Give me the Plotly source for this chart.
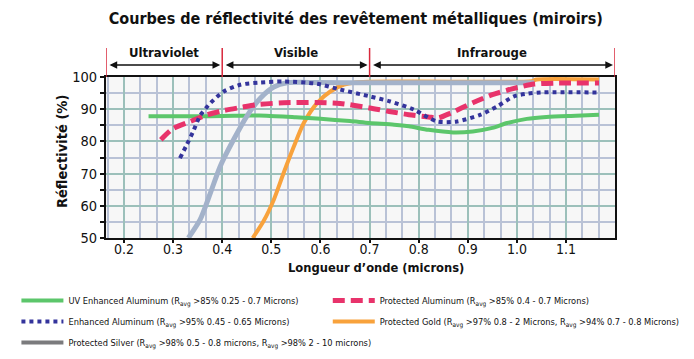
import plotly.graph_objects as go

# ---- data ----
uv_x = [0.25, 0.30, 0.35, 0.40, 0.45, 0.49, 0.55, 0.60, 0.66, 0.70, 0.75, 0.78, 0.82, 0.87, 0.91, 0.95, 0.98, 1.02, 1.06, 1.12, 1.167]
uv_y = [87.8, 87.8, 87.8, 87.9, 88.0, 88.0, 87.5, 87.0, 86.3, 85.7, 85.2, 84.7, 83.6, 82.8, 83.1, 84.2, 85.7, 87.0, 87.6, 88.0, 88.3]

pa_x = [0.275, 0.30, 0.335, 0.37, 0.40, 0.44, 0.47, 0.525, 0.59, 0.64, 0.70, 0.74, 0.78, 0.82, 0.84, 0.865, 0.91, 0.95, 0.99, 1.035, 1.075, 1.167]
pa_y = [80.5, 84.0, 86.2, 88.3, 89.5, 90.6, 91.4, 92.0, 92.1, 91.8, 90.4, 89.3, 88.3, 87.6, 87.3, 88.8, 92.0, 94.5, 96.3, 97.8, 98.1, 98.1]

ea_x = [0.314, 0.328, 0.341, 0.355, 0.376, 0.403, 0.437, 0.478, 0.525, 0.593, 0.64, 0.70, 0.742, 0.79, 0.837, 0.878, 0.926, 0.96, 0.994, 1.021, 1.048, 1.167]
ea_y = [74.8, 79.0, 83.1, 88.0, 91.9, 95.5, 97.6, 98.3, 98.6, 97.9, 96.1, 94.0, 92.4, 89.9, 86.2, 86.2, 88.3, 90.9, 94.0, 94.8, 95.2, 95.2]

ps_x = [0.331, 0.355, 0.376, 0.396, 0.423, 0.45, 0.478, 0.505, 0.532, 0.593, 0.70, 0.85, 1.035]
ps_y = [50.0, 55.7, 64.0, 72.3, 80.5, 87.8, 93.5, 96.9, 98.2, 98.3, 98.2, 98.2, 98.2]

pg_x = [0.462, 0.484, 0.505, 0.525, 0.546, 0.566, 0.593, 0.62, 0.648, 0.67, 0.70, 0.80, 1.03, 1.04, 1.167]
pg_y = [50.0, 55.2, 61.9, 70.2, 78.5, 85.7, 91.9, 95.5, 97.6, 98.3, 98.5, 98.6, 98.7, 99.2, 99.2]

region_bounds = [0.4, 0.7]
region_labels = ["Ultraviolet", "Visible", "Infrarouge"]
x_ticks = [0.2, 0.3, 0.4, 0.5, 0.6, 0.7, 0.8, 0.9, 1.0, 1.1]
x_ticktext = ["0.2", "0.3", "0.4", "0.5", "0.6", "0.7", "0.8", "0.9", "1.0", "1.1"]
y_ticks = [50, 60, 70, 80, 90, 100]

names = {
    "uv": "UV Enhanced Aluminum (R<sub>avg</sub> >85% 0.25 - 0.7 Microns)",
    "pa": "Protected Aluminum (R<sub>avg</sub> >85% 0.4 - 0.7 Microns)",
    "ea": "Enhanced Aluminum (R<sub>avg</sub> >95% 0.45 - 0.65 Microns)",
    "pg": "Protected Gold (R<sub>avg</sub> >97% 0.8 - 2 Microns, R<sub>avg</sub> >94% 0.7 - 0.8 Microns)",
    "ps": "Protected Silver (R<sub>avg</sub> >98% 0.5 - 0.8 microns, R<sub>avg</sub> >98% 2 - 10 microns)",
}

XMIN, XMAX = 0.1634, 1.1996
FONT = "DejaVu Sans Condensed, Roboto, sans-serif"
GREEN = "#5cc66b"
PINK = "#e8336b"
BLUE = "#34349c"
SILVER = "#a3b2ca"
GOLD = "#f8a23c"
GRAY = "#7b7b7d"

fig = go.Figure()
sm = 0.7
fig.add_trace(go.Scatter(x=pg_x, y=pg_y, mode="lines", name=names["pg"],
                         line=dict(color=GOLD, width=4, shape="spline", smoothing=sm),
                         legend="legend2", legendgroup="pg", legendrank=2))
fig.add_trace(go.Scatter(x=uv_x, y=uv_y, mode="lines", name=names["uv"],
                         line=dict(color=GREEN, width=4, shape="spline", smoothing=sm),
                         legend="legend", legendgroup="uv", legendrank=1))
fig.add_trace(go.Scatter(x=ps_x, y=ps_y, mode="lines", name=names["ps"], showlegend=False,
                         line=dict(color=SILVER, width=5, shape="spline", smoothing=sm)))
fig.add_trace(go.Scatter(x=pa_x, y=pa_y, mode="lines", name=names["pa"],
                         line=dict(color=PINK, width=5, dash="12px,6px", shape="spline", smoothing=sm),
                         legend="legend2", legendgroup="pa", legendrank=1))
fig.add_trace(go.Scatter(x=ea_x, y=ea_y, mode="lines", name=names["ea"],
                         line=dict(color=BLUE, width=4, dash="4px,4px", shape="spline", smoothing=sm),
                         legend="legend", legendgroup="ea", legendrank=2))
fig.add_trace(go.Scatter(x=[None], y=[None], mode="lines", name=names["ps"],
                         line=dict(color=GRAY, width=4),
                         legend="legend", legendgroup="ps", legendrank=3))

shapes = []
for xv in [XMIN] + region_bounds + [XMAX]:
    shapes.append(dict(type="line", xref="x", yref="paper", x0=xv, x1=xv, y0=1.0, y1=1.18,
                       line=dict(color="#d8283c", width=1.5)))

annotations = []
edges = [XMIN] + region_bounds + [XMAX]
for i, lab in enumerate(region_labels):
    a, b = edges[i], edges[i + 1]
    annotations.append(dict(x=b, y=1.0745, xref="x", yref="paper", ax=a, ay=0,
                            axref="x", ayref="pixel", text="", showarrow=True,
                            arrowhead=2, arrowside="end+start", arrowsize=1.1, arrowwidth=1.4,
                            arrowcolor="#111", standoff=2, startstandoff=2))
    annotations.append(dict(x=(a + b) / 2, y=1.155, xref="x", yref="paper", text="<b>%s</b>" % lab,
                            xanchor="center", yanchor="middle",
                            showarrow=False, font=dict(family=FONT, size=13, color="#111")))

annotations.append(dict(x=0.530, y=-0.186, xref="paper", yref="paper", xanchor="center", yanchor="middle",
                        text="<b>Longueur d’onde (microns)</b>", showarrow=False,
                        font=dict(family=FONT, size=12.8, color="#111")))
annotations.append(dict(x=-0.0864, y=0.534, xref="paper", yref="paper", textangle=-90,
                        xanchor="center", yanchor="middle",
                        text="<b>Réflectivité (%)</b>", showarrow=False,
                        font=dict(family=FONT, size=14.5, color="#111")))

fig.update_layout(
    width=686, height=351,
    margin=dict(l=98, r=79, t=69, b=121, autoexpand=False),
    paper_bgcolor="white", plot_bgcolor="#f7f7f7",
    title=dict(text="<b>Courbes de réflectivité des revêtement métalliques (miroirs)</b>",
               x=0.507, xanchor="center", xref="container", y=1 - 10 / 351, yanchor="middle",
               font=dict(family=FONT, size=16, color="#111")),
    shapes=shapes, annotations=annotations,
    legend=dict(x=-0.176, xanchor="left", y=-0.298, yanchor="top", orientation="v",
                font=dict(family=FONT, size=9.2, color="#111"), bgcolor="rgba(0,0,0,0)",
                tracegroupgap=2, itemwidth=42),
    legend2=dict(x=0.4357, xanchor="left", y=-0.298, yanchor="top", orientation="v",
                 font=dict(family=FONT, size=9.2, color="#111"), bgcolor="rgba(0,0,0,0)",
                 tracegroupgap=2, itemwidth=42),
)

fig.update_xaxes(range=[XMIN, XMAX], tickvals=x_ticks, ticktext=x_ticktext,
                 showgrid=True, gridcolor="#9cc0ba", gridwidth=2,
                 minor=dict(tick0=0.2, dtick=1 / 30, showgrid=True, gridcolor="#b9c2d6", gridwidth=2),
                 ticks="outside", ticklen=3, tickcolor="#111", tickwidth=1.5,
                 ticklabelstandoff=-6,
                 showline=True, mirror=True, linecolor="#111", linewidth=2,
                 zeroline=False, tickfont=dict(family=FONT, size=14, color="#111"))
fig.update_yaxes(range=[50, 100], tickvals=y_ticks,
                 showgrid=True, gridcolor="#9cc0ba", gridwidth=2,
                 minor=dict(tick0=50, dtick=5, showgrid=True, gridcolor="#b9c2d6", gridwidth=2,
                            ticks="outside", ticklen=4, tickcolor="#111", tickwidth=1.5),
                 ticks="outside", ticklen=4, tickcolor="#111", tickwidth=1.5,
                 showline=True, mirror=True, linecolor="#111", linewidth=2,
                 zeroline=False, tickfont=dict(family=FONT, size=14.5, color="#111"))

fig.write_html("out.html")
